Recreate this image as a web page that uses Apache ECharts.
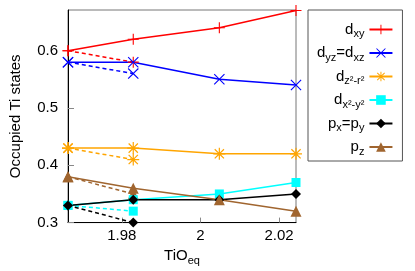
<!DOCTYPE html>
<html>
<head>
<meta charset="utf-8">
<script src="https://cdn.jsdelivr.net/npm/echarts@6/dist/echarts.min.js"></script>
<style>html,body{margin:0;padding:0;background:#fff}#c{width:415px;height:271px}</style>
</head>
<body>
<div id="c"></div>
<script>
// ---- data ----
var xSolid = [1.9663, 1.9829, 2.0048, 2.0243];
var xDashed = [1.9663, 1.9829];
var dxy = [0.60, 0.62, 0.64, 0.67];
var dxyD = [0.60, 0.58];
var dyz = [0.58, 0.58, 0.55, 0.54];
var dyzD = [0.58, 0.56];
var dz2 = [0.43, 0.43, 0.42, 0.42];
var dz2D = [0.43, 0.41];
var dx2 = [0.33, 0.34, 0.35, 0.37];
var dx2D = [0.33, 0.32];
var pxy = [0.33, 0.34, 0.34, 0.35];
var pxyD = [0.33, 0.30];
var pz = [0.38, 0.36, 0.34, 0.32];
var pzD = [0.38, 0.35];
var xTicks = [1.98, 2.0, 2.02];
var xTickLabels = ['1.98', '2', '2.02'];
var yTicks = [0.3, 0.4, 0.5, 0.6];
var yTickLabels = ['0.3', '0.4', '0.5', '0.6'];
var names = ['dxy', 'dyz', 'dz2', 'dx2', 'pxy', 'pz'];
var legendLabels = {
  dxy: '{m|d}{s|xy}',
  dyz: '{m|d}{s|yz}{m|=d}{s|xz}',
  dz2: '{m|d}{s|z²-r²}',
  dx2: '{m|d}{s|x²-y²}',
  pxy: '{m|p}{s|x}{m|=p}{s|y}',
  pz: '{m|p}{s|z}'
};

var PLUS = 'path://M45,0 H55 V45 H100 V55 H55 V100 H45 V55 H0 V45 H45 Z';
var CROSS = 'path://M0,7 L7,0 L50,43 L93,0 L100,7 L57,50 L100,93 L93,100 L50,57 L7,100 L0,93 L43,50 Z';
var STAR = 'path://M45,0 H55 V45 H100 V55 H55 V100 H45 V55 H0 V45 H45 Z M8,15 L15,8 L50,43 L85,8 L92,15 L57,50 L92,85 L85,92 L50,57 L15,92 L8,85 L43,50 Z';

var styles = {
  dxy: {color: '#ff0000', symbol: PLUS, size: 11},
  dyz: {color: '#0000ff', symbol: CROSS, size: 11},
  dz2: {color: '#ffa500', symbol: STAR, size: 12},
  dx2: {color: '#00ffff', symbol: 'rect', size: 9},
  pxy: {color: '#000000', symbol: 'diamond', size: 10},
  pz: {color: '#a0652f', symbol: 'triangle', size: 11}
};
var solidData = {dxy: dxy, dyz: dyz, dz2: dz2, dx2: dx2, pxy: pxy, pz: pz};
var dashData = {dxy: dxyD, dyz: dyzD, dz2: dz2D, dx2: dx2D, pxy: pxyD, pz: pzD};

function zip(xs, ys) { return xs.map(function (x, i) { return [x, ys[i]]; }); }

var series = [];
names.forEach(function (n) {
  var s = styles[n];
  series.push({
    name: n + '_dash', type: 'line', data: zip(xDashed, dashData[n]),
    symbol: s.symbol, symbolSize: s.size, clip: false,
    lineStyle: {color: s.color, width: 1.5, type: [4, 3]},
    itemStyle: {color: s.color}, emphasis: {disabled: true}, animation: false
  });
});
names.forEach(function (n) {
  var s = styles[n];
  series.push({
    name: n, type: 'line', data: zip(xSolid, solidData[n]),
    symbol: s.symbol, symbolSize: s.size, clip: false,
    lineStyle: {color: s.color, width: 1.5},
    itemStyle: {color: s.color}, emphasis: {disabled: true}, animation: false
  });
});

var chart = echarts.init(document.getElementById('c'), null, {renderer: 'canvas'});
var FONT = 'Liberation Sans';
chart.setOption({
  backgroundColor: '#fff',
  animation: false,
  textStyle: {fontFamily: FONT},
  grid: {left: 55, top: 10, right: 119, bottom: 42, show: true, borderColor: '#777', borderWidth: 1},
  xAxis: {
    type: 'value', min: 1.9663, max: 2.0243,
    name: '{m|TiO}{s|eq}', nameLocation: 'middle', nameGap: 22,
    nameTextStyle: {rich: {
      m: {fontFamily: FONT, fontSize: 15, color: '#000', lineHeight: 20},
      s: {fontFamily: FONT, fontSize: 11, color: '#000', verticalAlign: 'bottom', lineHeight: 12}
    }},
    axisLine: {show: true, lineStyle: {color: '#000', width: 1}},
    axisTick: {show: true, inside: true, length: 5, lineStyle: {color: '#888'}, customValues: xTicks},
    axisLabel: {fontFamily: FONT, fontSize: 15, color: '#000', margin: 6, customValues: xTicks,
      formatter: function (v) { var i = xTicks.findIndex(function (t) { return Math.abs(t - v) < 1e-6; }); return i >= 0 ? xTickLabels[i] : ''; }},
    splitLine: {show: false}
  },
  yAxis: {
    type: 'value', min: 0.3, max: 0.671,
    name: 'Occupied Ti states', nameLocation: 'middle', nameGap: 45,
    nameTextStyle: {fontFamily: FONT, fontSize: 15, color: '#000'},
    axisLine: {show: true, lineStyle: {color: '#000', width: 1}},
    axisTick: {show: true, inside: true, length: 6, lineStyle: {color: '#888'}, customValues: yTicks},
    axisLabel: {fontFamily: FONT, fontSize: 15, color: '#000', margin: 10, customValues: yTicks,
      formatter: function (v) { var i = yTicks.findIndex(function (t) { return Math.abs(t - v) < 1e-6; }); return i >= 0 ? yTickLabels[i] : ''; }},
    splitLine: {show: false}
  },
  legend: {
    data: names, orient: 'vertical', left: 308, top: 10, align: 'right',
    itemWidth: 23, itemHeight: 12, itemGap: 6,
    padding: [12, 9, 4, 9],
    borderColor: '#555', borderWidth: 1, backgroundColor: '#fff',
    selectedMode: false,
    formatter: function (n) { return legendLabels[n]; },
    textStyle: {width: 66, rich: {
      m: {fontFamily: FONT, fontSize: 15, color: '#000', lineHeight: 20},
      s: {fontFamily: FONT, fontSize: 11, color: '#000', verticalAlign: 'bottom', lineHeight: 12}
    }}
  },
  series: series
});
</script>
</body>
</html>
